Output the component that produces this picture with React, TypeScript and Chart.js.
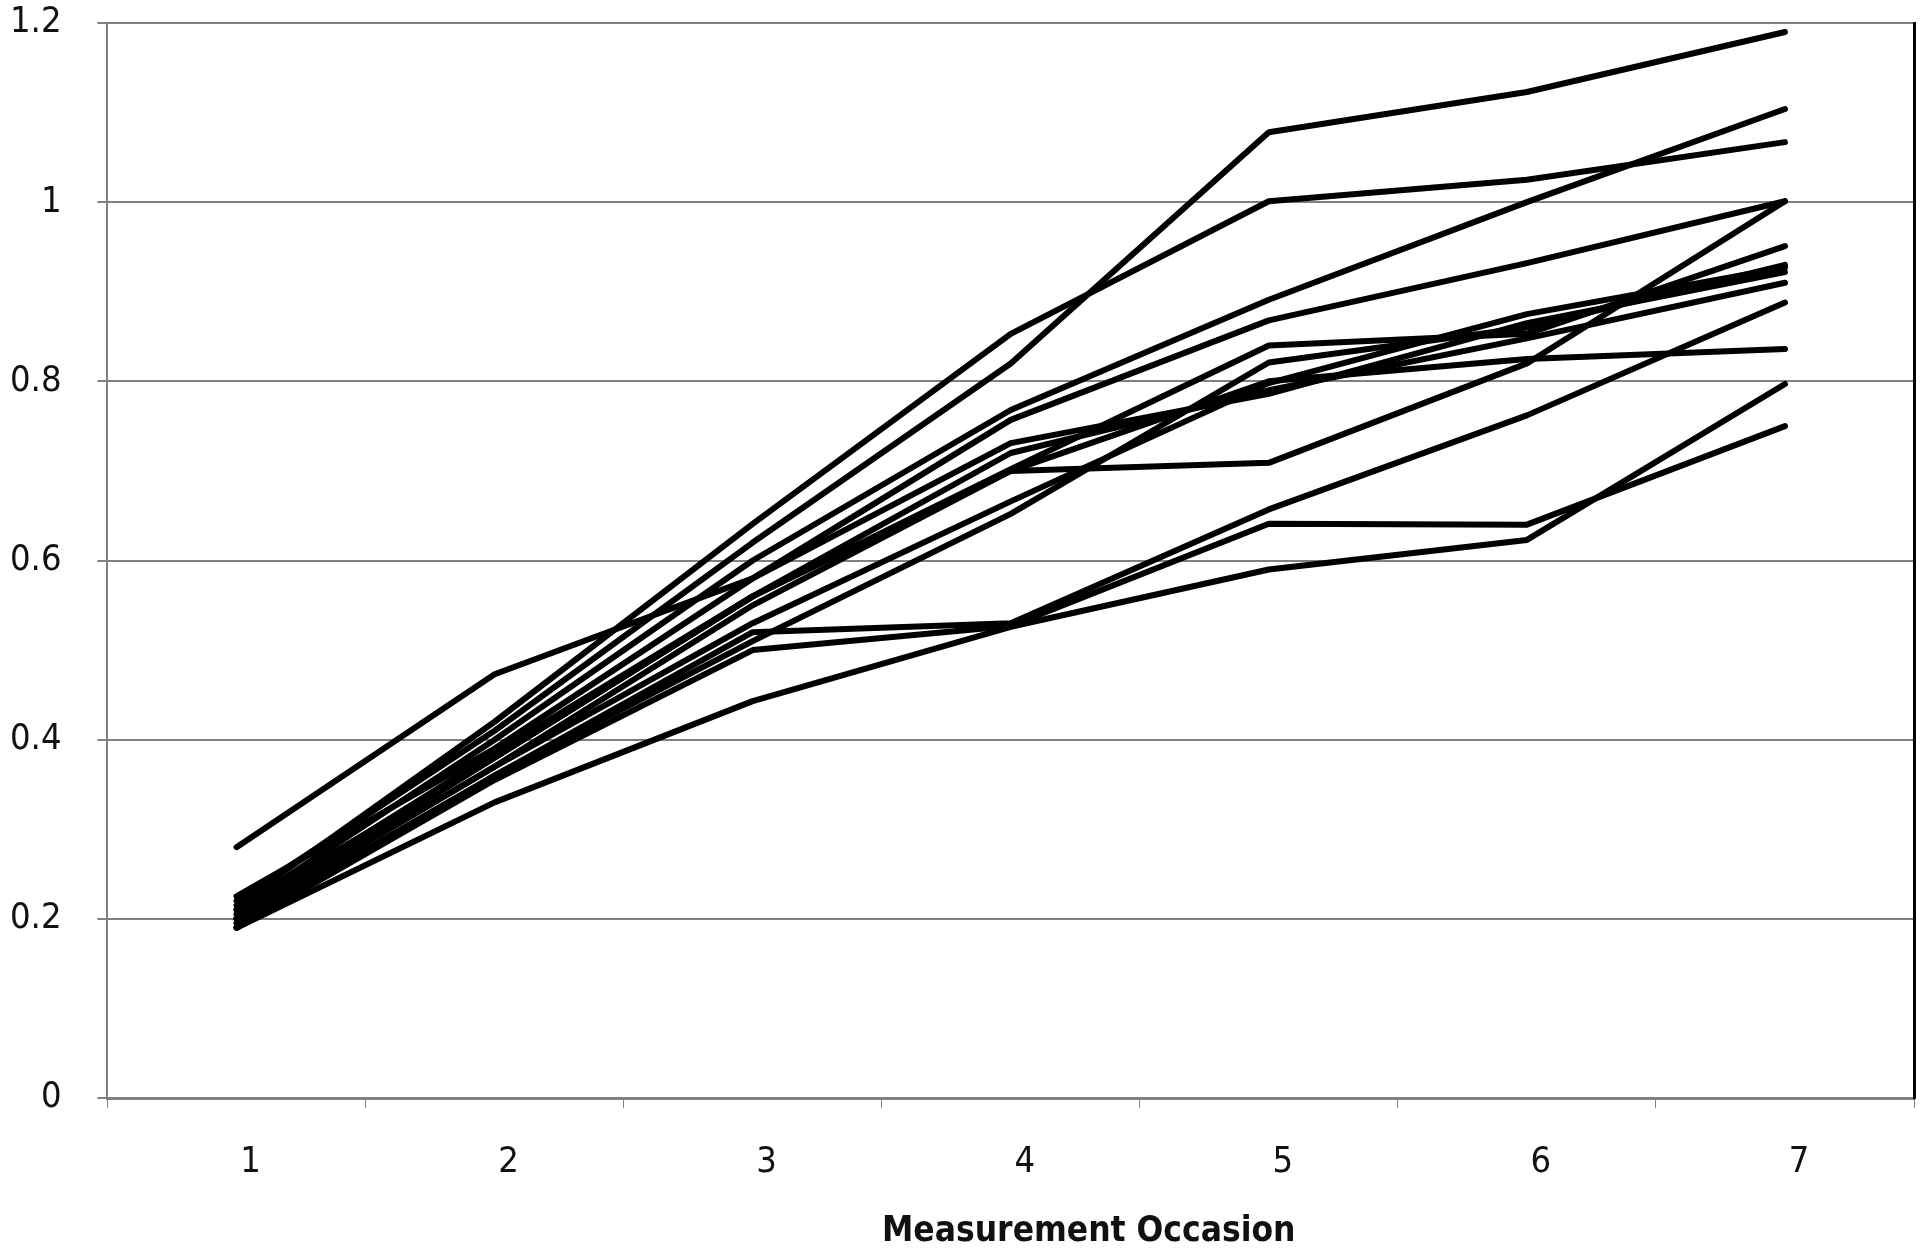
import { useEffect, useRef } from 'react';
import Chart from 'chart.js/auto';

const occasions = ['1', '2', '3', '4', '5', '6', '7'];

// one array per subject
const subjectA = [0.22, 0.41, 0.62, 0.82, 1.078, 1.123, 1.19];
const subjectB = [0.215, 0.42, 0.641, 0.853, 1.001, 1.025, 1.067];
const subjectC = [0.21, 0.4, 0.6, 0.768, 0.891, 1.0, 1.104];
const subjectD = [0.28, 0.473, 0.58, 0.757, 0.868, 0.932, 1.001];
const subjectE = [0.2, 0.38, 0.56, 0.7, 0.709, 0.82, 1.001];
const subjectF = [0.195, 0.36, 0.52, 0.53, 0.657, 0.762, 0.888];
const subjectG = [0.19, 0.355, 0.5, 0.527, 0.641, 0.64, 0.75];
const subjectH = [0.19, 0.33, 0.443, 0.526, 0.59, 0.623, 0.797];
const subjectI = [0.2, 0.37, 0.55, 0.7, 0.8, 0.825, 0.836];
const subjectJ = [0.205, 0.385, 0.56, 0.702, 0.84, 0.853, 0.951];
const subjectK = [0.19, 0.36, 0.51, 0.652, 0.821, 0.86, 0.93];
const subjectL = [0.2, 0.37, 0.53, 0.666, 0.798, 0.875, 0.927];
const subjectM = [0.225, 0.39, 0.58, 0.731, 0.786, 0.865, 0.922];
const subjectN = [0.21, 0.38, 0.56, 0.72, 0.79, 0.848, 0.91];

const subjects = [
  subjectA, subjectB, subjectC, subjectD, subjectE, subjectF, subjectG,
  subjectH, subjectI, subjectJ, subjectK, subjectL, subjectM, subjectN,
];

const xTitle = 'Measurement Occasion';

const FONT = "'DejaVu Sans Condensed', 'DejaVu Sans', Verdana, sans-serif";

// the axis title sits right of centre in the original, so draw it ourselves
const shiftedTitle = {
  id: 'shiftedTitle',
  afterDraw(chart: Chart) {
    const { ctx, chartArea } = chart;
    const xScale = chart.scales.x;
    ctx.save();
    ctx.font = `bold 35px ${FONT}`;
    ctx.fillStyle = '#111111';
    ctx.textAlign = 'center';
    ctx.textBaseline = 'middle';
    ctx.fillText(xTitle, (chartArea.left + chartArea.right) / 2 + 78, xScale.bottom - 16);
    ctx.restore();
  },
};

export default function App() {
  const canvasRef = useRef<HTMLCanvasElement>(null);

  useEffect(() => {
    document.body.style.margin = '0';
    let chart: Chart | null = null;

    if (canvasRef.current) {
      chart = new Chart(canvasRef.current, {
        type: 'line',
        data: {
          labels: occasions,
          datasets: subjects.map((values, i) => ({
            label: 'Subject ' + (i + 1),
            data: values,
            borderColor: '#000000',
            borderWidth: 6,
            borderCapStyle: 'round',
            borderJoinStyle: 'round',
            pointRadius: 0,
            tension: 0,
            fill: false,
          })),
        },
        options: {
          animation: false,
          responsive: true,
          maintainAspectRatio: false,
          layout: { padding: { left: -26, right: 6, top: 0, bottom: 0 } },
          plugins: {
            legend: { display: false },
            tooltip: { enabled: false },
          },
          scales: {
            x: {
              offset: true,
              grid: {
                display: true,
                drawOnChartArea: false,
                drawTicks: true,
                tickLength: 10,
                offset: true,
                color: '#808080',
              },
              border: { color: '#808080', width: 3 },
              ticks: {
                color: '#111111',
                padding: 37,
                labelOffset: 14,
                font: { family: FONT, size: 36, lineHeight: 1 },
              },
              // keeps the room for the title drawn by shiftedTitle
              title: {
                display: true,
                text: '',
                padding: { top: 0, bottom: 2 },
                font: { family: FONT, size: 35, weight: 'bold', lineHeight: 0.8 },
              },
            },
            y: {
              min: 0,
              max: 1.2,
              // keep the wide label gap without pushing the plot down
              afterFit: (scale) => {
                scale.paddingTop = 23;
              },
              ticks: {
                stepSize: 0.2,
                color: '#111111',
                padding: 36,
                font: { family: FONT, size: 36 },
                callback: (v) => String(Number(Number(v).toFixed(1))),
              },
              grid: {
                color: '#808080',
                lineWidth: 2,
                drawTicks: true,
                tickLength: 10,
              },
              border: { color: '#808080', width: 2 },
            },
            yRight: {
              position: 'right',
              min: 0,
              max: 1.2,
              ticks: { display: false },
              grid: { display: false, drawTicks: false },
              border: { color: '#000000', width: 3 },
            },
          },
        },
        plugins: [shiftedTitle],
      });
    }

    return () => {
      if (chart) chart.destroy();
    };
  }, []);

  return (
    <div style={{ width: 1920, height: 1248, background: '#ffffff' }}>
      <canvas ref={canvasRef}></canvas>
    </div>
  );
}
